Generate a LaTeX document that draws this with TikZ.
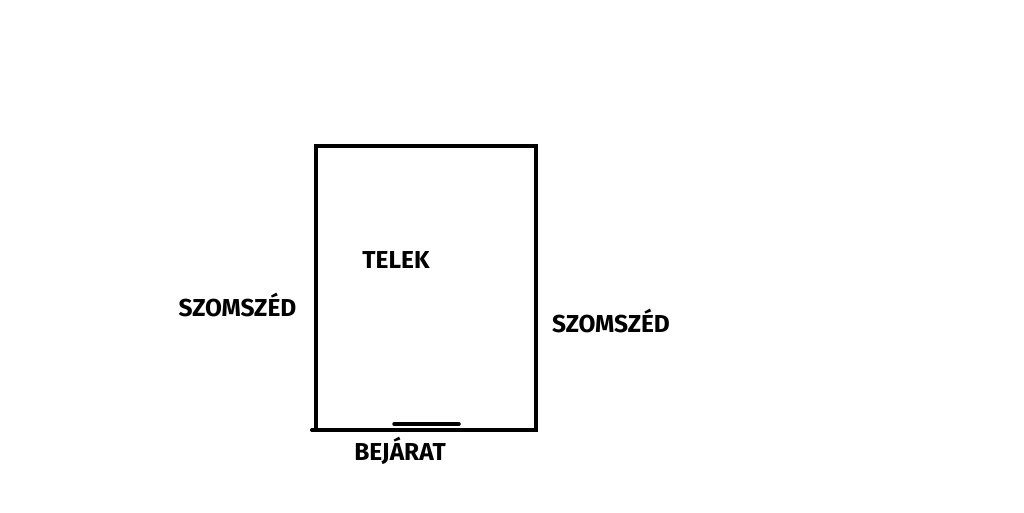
\documentclass[tikz,border=0pt]{standalone}
\usepackage{fontspec}
\setmainfont{Fira Sans}
\begin{document}
\begin{tikzpicture}[x=1pt,y=-1pt,
  wall/.style={line width=4pt,line cap=round,line join=miter},
  gate/.style={line width=3.5pt,line cap=round},
  lbl/.style={font=\fontsize{24.5}{28}\selectfont\bfseries,inner sep=0pt,anchor=base}]
\useasboundingbox[fill=white] (0,0) rectangle (1024,512);
\coordinate (tl) at (316,146);
\coordinate (tr) at (536,146);
\coordinate (br) at (536,430);
\coordinate (bl) at (312,430);
\coordinate (lb) at (316,428);
\draw[wall] (lb) -- (tl) -- (tr) -- (br) -- (bl);
\coordinate (g1) at (394,424);
\coordinate (g2) at (459,424);
\draw[gate] (g1) -- (g2);
\node[lbl] (telek) at (396,268.5) {TELEK};
\node[lbl] (szl) at (237.5,316) {SZOMSZÉD};
\node[lbl] (szr) at (611,332) {SZOMSZÉD};
\node[lbl] (bej) at (400,460) {BEJÁRAT};
\end{tikzpicture}
\end{document}
